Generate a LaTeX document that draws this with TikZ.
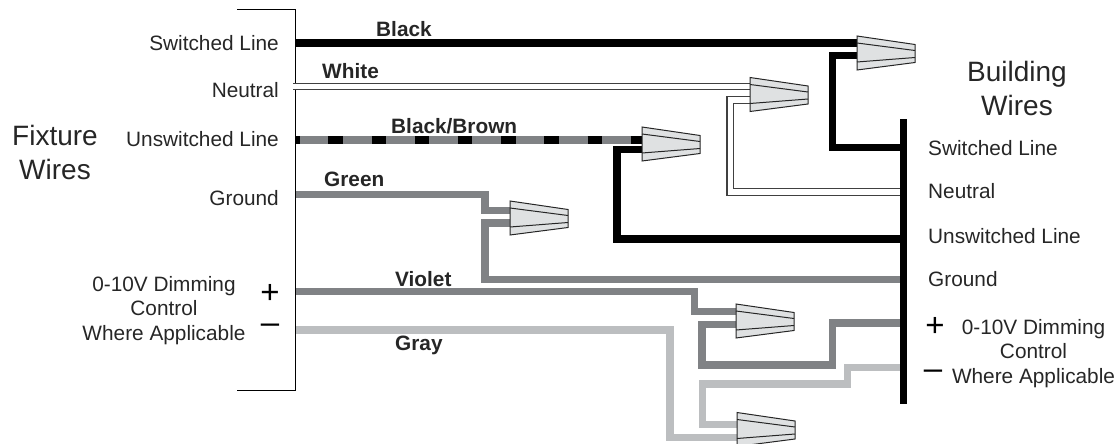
\documentclass[tikz,border=0pt]{standalone}
\usepackage{fontspec}
\setmainfont{Liberation Sans}
\definecolor{colorViolet}{HTML}{808285}
\definecolor{colorGray}{HTML}{BCBEC0}
\definecolor{colorNut}{HTML}{DFE1E2}
\tikzset{
    wire/.style={line width=7.4pt,line join=miter},
    thinwire/.style={draw=black!75,line width=1.1pt,double=white,double distance=5.6pt},
    side/.style={font=\fontsize{20.8}{24.5}\selectfont,inner sep=0pt,text=black!85},
    head/.style={font=\fontsize{28}{34}\selectfont,inner sep=0pt,align=center,text=black!85},
    tag/.style={font=\fontsize{20.8}{24}\selectfont\bfseries,inner sep=0pt,text=black!85},
    sign/.style={font=\fontsize{33}{36}\selectfont,inner sep=0pt},
    nut/.pic={
        \filldraw[fill=colorNut,draw=black!85,line width=1pt] (0,0) -- (58,8.5) -- (58,26.5) -- (0,34) -- cycle;
        \draw[black!85,line width=1pt] (0,7) -- (58,14.5);
        \draw[black!85,line width=1pt] (0,26) -- (58,21.5);
    }
}

\begin{document}
\begin{tikzpicture}[x=1pt,y=-1pt]
        \useasboundingbox (0,0) rectangle (1117,444);

        % fixture side
        \node[head] (fixture) at (55,152) {Fixture\\Wires};
        \node[side,anchor=east] (fswitched) at (279,43) {Switched Line};
        \node[side,anchor=east] (fneutral) at (279,90) {Neutral};
        \node[side,anchor=east] (funswitched) at (279,139) {Unswitched Line};
        \node[side,anchor=east] (fground) at (279,198) {Ground};
        \node[side,align=center] (fdimming) at (164,310.5) {0-10V Dimming\\Control\\Where Applicable};
        \node[sign] (fplus) at (270,294) {+};
        \node[sign] (fminus) at (270,329) {\textendash};
        \draw[line width=1pt] (237,10) -- (295,10) -- (295,390) -- (237,390);

        % building side
        \node[head] (building) at (1017,88) {Building\\Wires};
        \node[side,anchor=west] (bswitched) at (928,148) {Switched Line};
        \node[side,anchor=west] (bneutral) at (928,191) {Neutral};
        \node[side,anchor=west] (bunswitched) at (928,236) {Unswitched Line};
        \node[side,anchor=west] (bground) at (928,279) {Ground};
        \node[side,align=center] (bdimming) at (1033.5,353.5) {0-10V Dimming\\Control\\Where Applicable};
        \node[sign] (bplus) at (935,327) {+};
        \node[sign] (bminus) at (933,375) {\textendash};

        % wire names
        \node[tag,anchor=west] (tblack) at (376,29) {Black};
        \node[tag,anchor=west] (twhite) at (322,71) {White};
        \node[tag,anchor=west] (tbrown) at (391,126) {Black/Brown};
        \node[tag,anchor=west] (tgreen) at (324,179) {Green};
        \node[tag,anchor=west] (tviolet) at (395,279) {Violet};
        \node[tag,anchor=west] (tgray) at (395,345) {Gray};

        % wire ends on the fixture side
        \coordinate (a1) at (296,43);
        \coordinate (a2) at (293,86.5);
        \coordinate (a3) at (296,140);
        \coordinate (a4) at (296,194.5);
        \coordinate (a5) at (296,291.3);
        \coordinate (a6) at (296,330);
        % wire ends on the building side
        \coordinate (b1) at (900,147.3);
        \coordinate (b2) at (900,191.7);
        \coordinate (b3) at (900,239);
        \coordinate (b4) at (900,279.5);
        \coordinate (b5) at (900,323);
        \coordinate (b6) at (900,367.7);
        % wire ends at the nuts
        \coordinate (n1a) at (858,43);
        \coordinate (n1b) at (858,55.7);
        \coordinate (n2a) at (751,86.5);
        \coordinate (n2b) at (751,100);
        \coordinate (n3a) at (643,140);
        \coordinate (n3b) at (643,149.7);
        \coordinate (n4a) at (511,210.5);
        \coordinate (n4b) at (511,223);
        \coordinate (n5a) at (737,311.3);
        \coordinate (n5b) at (737,324.7);
        \coordinate (n6a) at (738,424.7);
        \coordinate (n6b) at (738,437.7);

        \draw[wire] (a1) -- (n1a);
        \draw[wire] (n1b) -- (832.3,55.7) -- (832.3,147.3) -- (b1);

        \draw[thinwire] (a2) -- (n2a);
        \draw[thinwire] (n2b) -- (730.3,100) -- (730.3,191.7) -- (b2);

        \draw[wire,draw=colorViolet] (a3) -- (n3a);
        \draw[wire,dash pattern=on 14.4pt off 28.8pt,dash phase=10.9pt] (a3) -- (n3a);
        \draw[wire] (n3b) -- (617,149.7) -- (617,239) -- (b3);

        \draw[wire,draw=colorViolet] (a4) -- (485,194.5) -- (485,210.5) -- (n4a);
        \draw[wire,draw=colorViolet] (n4b) -- (485,223) -- (485,279.5) -- (b4);

        \draw[wire,draw=colorViolet] (a5) -- (694.7,291.3) -- (694.7,311.3) -- (n5a);
        \draw[wire,draw=colorViolet] (n5b) -- (702,324.7) -- (702,365) -- (832.3,365) -- (832.3,323) -- (b5);

        \draw[wire,draw=colorGray] (a6) -- (670,330) -- (670,437.7) -- (n6b);
        \draw[wire,draw=colorGray] (n6a) -- (702.3,424.7) -- (702.3,384) -- (847.7,384) -- (847.7,367.7) -- (b6);

        \node[fill=black,inner sep=0pt,minimum width=7pt,minimum height=285pt] (bar) at (903.7,261.5) {};

        \pic at (857,36) {nut};
        \pic at (750,77.5) {nut};
        \pic at (642,127) {nut};
        \pic at (510,201) {nut};
        \pic at (736,304) {nut};
        \pic at (737,412.5) {nut};
\end{tikzpicture}
\end{document}
